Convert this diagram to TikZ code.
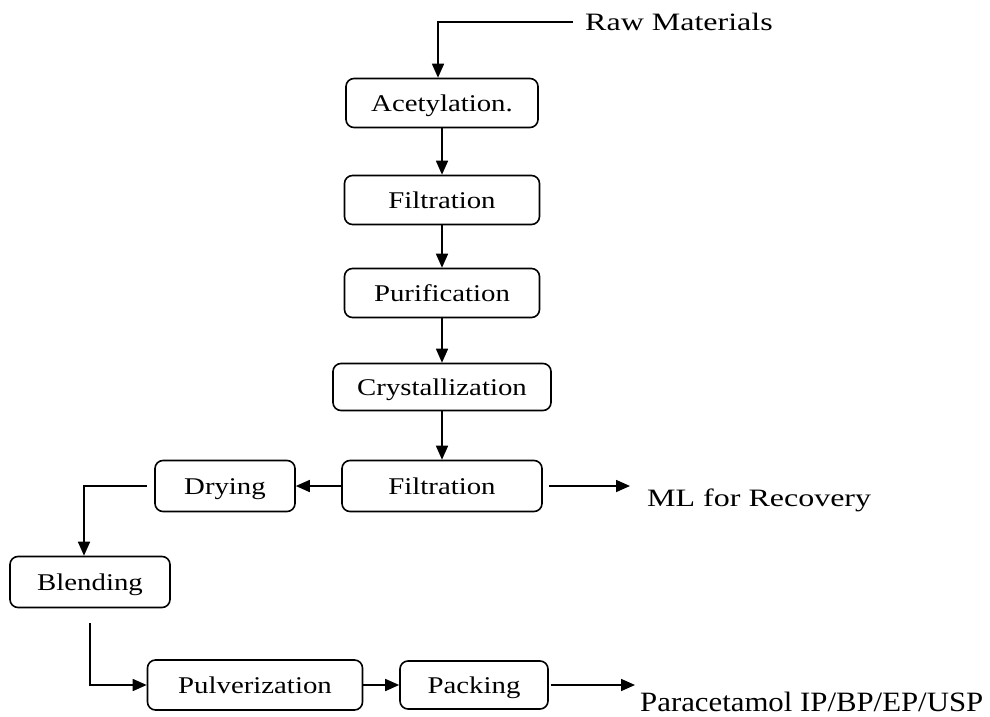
\documentclass[tikz,border=0pt]{standalone}
\usepackage{fontspec}
\setmainfont{Liberation Serif}
\newfontfamily\wideserif[FakeStretch=1.2]{Liberation Serif}
\newfontfamily\widerserif[FakeStretch=1.28]{Liberation Serif}
\newfontfamily\plainserif[FakeStretch=1.1]{Liberation Serif}
\usetikzlibrary{arrows.meta}
\tikzset{
  proc/.style={draw, rounded corners=8pt, line width=1.6pt, minimum height=49pt,
    inner sep=0pt, text height=17pt, text depth=0pt, font=\fontsize{24}{28}\wideserif},
  flow/.style={line width=1.6pt, -{Triangle[length=14pt,width=12pt]}},
  outlabel/.style={anchor=base west, inner sep=0pt, font=\fontsize{25}{30}\widerserif}
}
\begin{document}
\begin{tikzpicture}[x=1pt,y=-1pt]
  \useasboundingbox (0,0) rectangle (990,717);
  \draw
    (442,103) node[proc, minimum width=192pt] (acet){Acetylation.}
    (442,200) node[proc, minimum width=195pt] (filt){Filtration}
    (442,293) node[proc, minimum width=195pt] (puri){Purification}
    (442,387) node[proc, minimum width=218pt, minimum height=47pt] (crys){Crystallization}
    (442,486) node[proc, minimum width=200pt, minimum height=51pt] (filtb){Filtration}
    (225,486) node[proc, minimum width=140pt, minimum height=51pt] (dry){Drying}
    (90,582) node[proc, minimum width=160pt, minimum height=51pt] (blend){Blending}
    (255,685) node[proc, minimum width=215pt, minimum height=50pt] (pulv){Pulverization}
    (474,685) node[proc, minimum width=148pt, minimum height=48pt] (pack){Packing};
  % inputs and outputs
  \node[outlabel] (raw) at (585,31) {Raw Materials};
  \node[outlabel] (ml) at (647,506) {ML for Recovery};
  \node[outlabel, font=\fontsize{28}{32}\plainserif] (para) at (640,711) {Paracetamol IP/BP/EP/USP};
  \coordinate (rawin) at (573,22);
  \coordinate (mlout) at (630,486);
  \coordinate (paraout) at (635,685);
  \begin{scope}[flow]
    \draw (rawin) -| ([xshift=-4pt]acet.north);
    \draw (acet) to (filt);
    \draw (filt) to (puri);
    \draw (puri) to (crys);
    \draw (crys) to (filtb);
    \draw (filtb.west) to (dry.east);
    \draw[shorten <=6pt] (filtb.east) to (mlout);
    \draw[shorten <=7pt] (dry.west) -| ([xshift=-6pt]blend.north);
    \draw[shorten <=15pt] (blend.south) |- (pulv.west);
    \draw (pulv.east) to (pack.west);
    \draw[shorten <=2pt] (pack.east) to (paraout);
  \end{scope}
\end{tikzpicture}
\end{document}
